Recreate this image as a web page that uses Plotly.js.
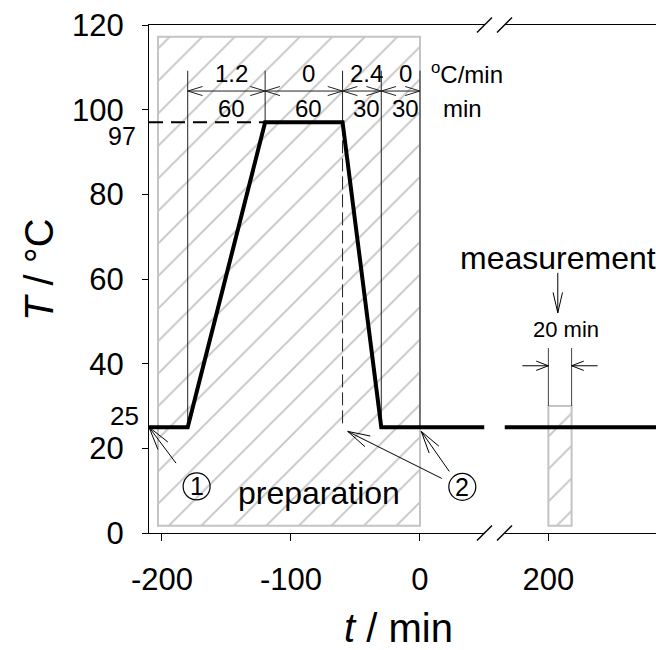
<!DOCTYPE html>
<html><head><meta charset="utf-8">
<script src="https://cdn.plot.ly/plotly-3.0.1.min.js"></script>
<style>body{margin:0;padding:0;background:#fff}#chart{width:656px;height:650px}</style>
</head><body><div id="chart"></div>
<script>
// ---- data ----
const profileTime = [-210, -180, -120, -60, -30, 50];
const profileTemp = [25, 25, 97, 97, 25, 25];
const measTime = [166, 290];
const measTemp = [25, 25];
const stepBounds = [-180, -120, -60, -30, 0];
const stepRates = ['1.2', '0', '2.4', '0'];
const stepDurations = ['60', '60', '30', '30'];
const prepBox = [-203, 0, 1.7, 117.2];   // t0, t1, T0, T1
const measBox = [200, 218, 1.7, 30];
const yTicks = [0, 20, 40, 60, 80, 100, 120];
const xTicksLeft = [-200, -100, 0];
const xTickTextLeft = ['-200', '-100', '0'];
const xTicksRight = [200];
const xTickTextRight = ['200'];
const specialT = ['97', '25'];

// ---- geometry ----
const W = 656, H = 650, ML = 149, MR = 0, MT = 25, MB = 117;
const plotW = W - ML - MR;
const dom1 = [0, (484.5 - ML) / plotW];
const dom2 = [(504.5 - ML) / plotW, 1];
const range1 = [-210, 50];
const pxPerMin = dom1[1] * plotW / (range1[1] - range1[0]);
const range2 = [166, 166 + (1 - dom2[0]) * plotW / pxPerMin];
const FONT = 'Liberation Sans, Arial, sans-serif';

function interpT(t) {
  for (let i = 0; i < profileTime.length - 1; i++) {
    const a = profileTime[i], b = profileTime[i + 1];
    if (t >= a && t <= b) return profileTemp[i] + (profileTemp[i + 1] - profileTemp[i]) * (t - a) / (b - a);
  }
  return profileTemp[profileTemp.length - 1];
}

const hatch = {shape: '/', fgcolor: '#c4c4c4', bgcolor: '#ffffff', size: 23, solidity: 0.08};
const dimTop = 109.2, dimY = 104.4;

const traces = [];
traces.push({type: 'bar', xaxis: 'x', yaxis: 'y', x: [(prepBox[0] + prepBox[1]) / 2], width: [prepBox[1] - prepBox[0]],
  base: [prepBox[2]], y: [prepBox[3] - prepBox[2]],
  marker: {color: '#ffffff', pattern: hatch, line: {color: '#c4c4c4', width: 2}}, hoverinfo: 'skip'});
traces.push({type: 'bar', xaxis: 'x2', yaxis: 'y', x: [(measBox[0] + measBox[1]) / 2], width: [measBox[1] - measBox[0]],
  base: [measBox[2]], y: [measBox[3] - measBox[2]],
  marker: {color: '#ffffff', pattern: hatch, line: {color: '#c4c4c4', width: 2}}, hoverinfo: 'skip'});

// dimension verticals
const vx = [], vy = [];
stepBounds.forEach(t => { vx.push(t, t, null); vy.push(dimTop, interpT(t), null); });
traces.push({type: 'scatter', mode: 'lines', xaxis: 'x', yaxis: 'y', x: vx, y: vy, line: {color: '#222', width: 1}, hoverinfo: 'skip'});
traces.push({type: 'scatter', mode: 'lines', xaxis: 'x', yaxis: 'y', x: [stepBounds[0], stepBounds[stepBounds.length - 1]], y: [dimY, dimY], line: {color: '#222', width: 1}, hoverinfo: 'skip'});
// measurement verticals
traces.push({type: 'scatter', mode: 'lines', xaxis: 'x2', yaxis: 'y', x: [measBox[0], measBox[0], null, measBox[1], measBox[1]],
  y: [measBox[3], 43.7, null, measBox[3], 43.7], line: {color: '#444', width: 1}, hoverinfo: 'skip'});
// dashed helper lines
traces.push({type: 'scatter', mode: 'lines', xaxis: 'x', yaxis: 'y', x: [profileTime[0], profileTime[2]], y: [profileTemp[2], profileTemp[2]],
  line: {color: '#000', width: 2, dash: '14px,8px'}, hoverinfo: 'skip'});
traces.push({type: 'scatter', mode: 'lines', xaxis: 'x', yaxis: 'y', x: [profileTime[3], profileTime[3]], y: [profileTemp[3], profileTemp[4]],
  line: {color: '#222', width: 1, dash: '13px,5px'}, hoverinfo: 'skip'});
// profile
traces.push({type: 'scatter', mode: 'lines', xaxis: 'x', yaxis: 'y', x: profileTime, y: profileTemp, line: {color: '#000', width: 4}, hoverinfo: 'skip'});
traces.push({type: 'scatter', mode: 'lines', xaxis: 'x2', yaxis: 'y', x: measTime, y: measTemp, line: {color: '#000', width: 4}, hoverinfo: 'skip'});

// ---- shapes ----
const shapes = [];
function arrow(xref, x, y, dx, dy, len, ang, shaft, color, width) {
  const base = {type: 'line', xref: xref, yref: 'y', xsizemode: 'pixel', ysizemode: 'pixel', xanchor: x, yanchor: y, line: {color: color, width: width}};
  if (shaft) shapes.push(Object.assign({}, base, {x0: 0, y0: 0, x1: dx, y1: -dy}));
  const a = Math.atan2(dy, dx);
  [-1, 1].forEach(s => {
    const b = a + s * ang * Math.PI / 180;
    shapes.push(Object.assign({}, base, {x0: 0, y0: 0, x1: len * Math.cos(b), y1: -len * Math.sin(b)}));
  });
}
// dimension heads
for (let i = 0; i < stepBounds.length - 1; i++) {
  arrow('x', stepBounds[i], dimY, 1, 0, 15.5, 17, false, '#222', 1);
  arrow('x', stepBounds[i + 1], dimY, -1, 0, 15.5, 17, false, '#222', 1);
}
// callout arrows
arrow('x', -210, 25, 27, 36, 24, 15, true, '#000', 1);
arrow('x', -56, 24, 94, 47, 23, 15, true, '#000', 1);
arrow('x', 1, 24, 28, 40, 23, 15, true, '#000', 1);
arrow('x2', 207.3, 52, 0, -40, 21, 13, true, '#000', 1);
arrow('x2', measBox[0], 39.5, -26, 0, 13, 21, true, '#000', 1);
arrow('x2', measBox[1], 39.5, 26, 0, 13, 21, true, '#000', 1);
// circles
[[-173.1, 11.0], [32.8, 10.9]].forEach(c => {
  shapes.push({type: 'circle', xref: 'x', yref: 'y', xsizemode: 'pixel', ysizemode: 'pixel', xanchor: c[0], yanchor: c[1],
    x0: -13.5, x1: 13.5, y0: -13.5, y1: 13.5, line: {color: '#000', width: 1.2}});
});
// axis break marks
[dom1[1], dom2[0]].forEach(xa => {
  [0, 1].forEach(ya => {
    shapes.push({type: 'line', xref: 'paper', yref: 'paper', xsizemode: 'pixel', ysizemode: 'pixel', xanchor: xa, yanchor: ya,
      x0: -7.5, x1: 7.5, y0: -7.5, y1: 7.5, line: {color: '#000', width: 1.5}});
  });
});

// ---- annotations ----
const ann = [];
function txt(xref, x, y, text, size, extra) {
  ann.push(Object.assign({xref: xref, yref: 'y', x: x, y: y, text: text, showarrow: false, xanchor: 'center', yanchor: 'middle',
    font: {family: FONT, size: size, color: '#000'}}, extra || {}));
}
for (let i = 0; i < stepRates.length; i++) {
  const c = (stepBounds[i] + stepBounds[i + 1]) / 2;
  txt('x', c, 108.6, stepRates[i], 24, {xshift: 5});
  txt('x', c, 100.2, stepDurations[i], 24, {xshift: 5});
}
txt('x', 0, 108.6, '<sup>o</sup>C/min', 24, {xanchor: 'left', xshift: 9});
txt('x', 0, 100.2, 'min', 24, {xanchor: 'left', xshift: 21});
txt('x', -77.9, 9.5, 'preparation', 32);
txt('x2', 207.1, 65, 'measurement', 32);
txt('x2', 213.7, 48, '20 min', 22);
txt('x', -173.1, 11.0, '1', 25);
txt('x', 32.8, 10.9, '2', 25);
ann.push({xref: 'paper', yref: 'y', x: (138 - ML) / plotW, y: 97, yshift: -14, xanchor: 'right', yanchor: 'middle', text: specialT[0], showarrow: false, font: {family: FONT, size: 25, color: '#000'}});
ann.push({xref: 'paper', yref: 'y', x: (141 - ML) / plotW, y: 25, yshift: 11, xanchor: 'right', yanchor: 'middle', text: specialT[1], showarrow: false, font: {family: FONT, size: 26, color: '#000'}});
ann.push({xref: 'paper', yref: 'paper', x: (39 - ML) / plotW, y: (533 - 270) / (H - MT - MB), xanchor: 'center', yanchor: 'middle', text: '<i>T</i> / °C', textangle: -90, showarrow: false, font: {family: FONT, size: 40, color: '#000'}});
ann.push({xref: 'paper', yref: 'paper', x: (398 - ML) / plotW, y: (533 - 628) / (H - MT - MB), xanchor: 'center', yanchor: 'middle', text: '<i>t</i> / min', showarrow: false, font: {family: FONT, size: 40, color: '#000'}});

const axBase = {ticks: 'outside', ticklen: 7, tickwidth: 1, tickcolor: '#000', showline: true, linecolor: '#000', linewidth: 1,
  showgrid: false, zeroline: false, tickfont: {family: FONT, size: 31, color: '#000'}, fixedrange: true};
const layout = {
  width: W, height: H, margin: {l: ML, r: MR, t: MT, b: MB, pad: 0},
  paper_bgcolor: '#fff', plot_bgcolor: '#fff', showlegend: false, barmode: 'overlay',
  font: {family: FONT, color: '#000'},
  xaxis: Object.assign({}, axBase, {domain: dom1, range: range1, tickmode: 'array', tickvals: xTicksLeft, ticktext: xTickTextLeft, mirror: true, anchor: 'y', ticklabelstandoff: 12}),
  xaxis2: Object.assign({}, axBase, {domain: dom2, range: range2, tickmode: 'array', tickvals: xTicksRight, ticktext: xTickTextRight, mirror: true, anchor: 'y', ticklabelstandoff: 12}),
  yaxis: Object.assign({}, axBase, {range: [0, 120], tickvals: yTicks, ticklen: 6, anchor: 'x', ticklabelstandoff: 12}),
  shapes: shapes, annotations: ann
};
Plotly.newPlot('chart', traces, layout, {displayModeBar: false, staticPlot: true});
</script></body></html>
